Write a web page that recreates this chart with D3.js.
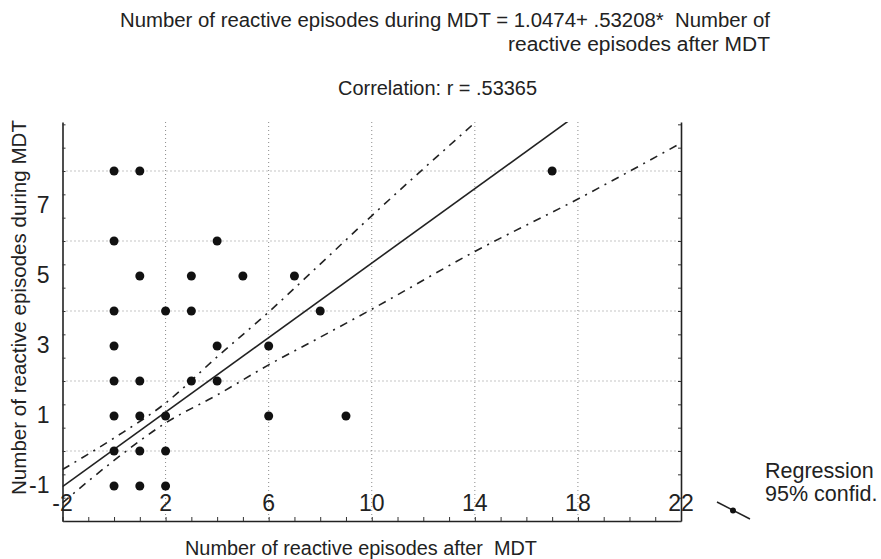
<!DOCTYPE html>
<html>
<head>
<meta charset="utf-8">
<script src="https://cdn.jsdelivr.net/npm/d3@7"></script>
<style>
  body { margin: 0; background: #fff; }
  text { font-family: "Liberation Sans", Arial, sans-serif; fill: #222; white-space: pre; }
</style>
</head>
<body>
<div id="chart"></div>
<script>
// Data
var afterMDT  = [0, 1, 17, 0, 4, 1, 3, 5, 7, 0, 2, 3, 8, 0, 4, 6, 0, 1, 3, 4, 0, 1, 2, 6, 9, 0, 1, 2, 0, 1, 2];
var duringMDT = [9, 9, 9, 7, 7, 6, 6, 6, 6, 5, 5, 5, 5, 4, 4, 4, 3, 3, 3, 3, 2, 2, 2, 2, 2, 1, 1, 1, 0, 0, 0];

// Regression from the title
var intercept = 1.0474;
var slope = 0.53208;

// 95% confidence band, read at a few x positions
var bandX     = [-2, 0, 2, 4, 6, 8, 10, 14, 18, 22];
var bandUpper = [0.47, 1.37, 2.37, 3.69, 4.97, 6.34, 7.72, 10.38, 13.0, 15.6];
var bandLower = [-0.48, 0.73, 1.8, 2.6, 3.46, 4.25, 5.05, 6.7, 8.2, 9.8];

// Ticks (labels on the y axis are offset in the original)
var xTickValues = [-2, 2, 6, 10, 14, 18, 22];
var yTickValues = [0, 2, 4, 6, 8];
var yTickLabels = ["-1", "1", "3", "5", "7"];
var xGridValues = [2, 6, 10, 14, 18];
var yGridValues = [1, 3, 5, 7, 9];

var svgWidth = 881;
var svgHeight = 559;

var margins = {
  top: 122,
  right: 200,
  bottom: 38,
  left: 62.5
};

var width = svgWidth - margins.left - margins.right;   // 618.5
var height = svgHeight - margins.top - margins.bottom; // 399

var svg = d3.select("#chart")
  .append("svg")
  .attr("width", svgWidth)
  .attr("height", svgHeight);

var chartGroup = svg.append("g")
  .attr("transform", `translate(${margins.left}, ${margins.top})`);

// Scales
var xScale = d3.scaleLinear().domain([-2, 22]).range([0, width]);
var yScale = d3.scaleLinear().domain([-1, 10.4]).range([height, 0]);

chartGroup.append("clipPath")
  .attr("id", "plotClip")
  .append("rect")
  .attr("width", width)
  .attr("height", height);

// Grid lines
chartGroup.selectAll(".xgrid").data(xGridValues).enter()
  .append("line")
  .attr("x1", d => xScale(d)).attr("x2", d => xScale(d))
  .attr("y1", 0).attr("y2", height)
  .attr("stroke", "#8a8a8a")
  .attr("stroke-width", 1)
  .attr("stroke-dasharray", "1,3");

chartGroup.selectAll(".ygrid").data(yGridValues).enter()
  .append("line")
  .attr("x1", 0).attr("x2", width)
  .attr("y1", d => yScale(d)).attr("y2", d => yScale(d))
  .attr("stroke", "#8a8a8a")
  .attr("stroke-width", 1)
  .attr("stroke-dasharray", "1,3");

// Axes: left, bottom, right with small inner ticks
var minorX = d3.range(-2, 22.01, 1);
var minorY = d3.range(-1, 10.4, 2 / 3);

var bottomAxis = d3.axisBottom(xScale).tickValues(minorX).tickSizeInner(-4).tickSizeOuter(0).tickFormat("");
var leftAxis = d3.axisLeft(yScale).tickValues(minorY).tickSizeInner(-3).tickSizeOuter(0).tickFormat("");
var rightAxis = d3.axisRight(yScale).tickValues(minorY).tickSizeInner(-3).tickSizeOuter(0).tickFormat("");

[chartGroup.append("g").attr("transform", `translate(0, ${height})`).call(bottomAxis),
 chartGroup.append("g").call(leftAxis),
 chartGroup.append("g").attr("transform", `translate(${width}, 0)`).call(rightAxis)]
  .forEach(function(g) {
    g.select(".domain").attr("stroke", "#222").attr("stroke-width", 1.6);
    g.selectAll(".tick line").attr("stroke", "#333").attr("stroke-width", 1);
  });

// Tick labels
chartGroup.selectAll(".xlabel").data(xTickValues).enter()
  .append("text")
  .attr("x", d => xScale(d))
  .attr("y", height - 10)
  .attr("text-anchor", "middle")
  .attr("font-size", 23)
  .text(d => d);

chartGroup.selectAll(".ylabel").data(yTickValues).enter()
  .append("text")
  .attr("x", -13)
  .attr("y", d => yScale(d) + 7)
  .attr("text-anchor", "end")
  .attr("font-size", 23)
  .text((d, i) => yTickLabels[i]);

// Confidence band and regression line
var plotArea = chartGroup.append("g").attr("clip-path", "url(#plotClip)");

var bandLine = d3.line()
  .x(d => xScale(d[0]))
  .y(d => yScale(d[1]))
  .curve(d3.curveMonotoneX);

[bandUpper, bandLower].forEach(function(band) {
  plotArea.append("path")
    .datum(bandX.map((x, i) => [x, band[i]]))
    .attr("d", bandLine)
    .attr("fill", "none")
    .attr("stroke", "#222")
    .attr("stroke-width", 1.6)
    .attr("stroke-dasharray", "8,6,2,6");
});

plotArea.append("line")
  .attr("x1", xScale(-2)).attr("y1", yScale(intercept + slope * -2))
  .attr("x2", xScale(22)).attr("y2", yScale(intercept + slope * 22))
  .attr("stroke", "#222")
  .attr("stroke-width", 1.6);

// Points
chartGroup.selectAll("circle").data(afterMDT).enter()
  .append("circle")
  .attr("cx", d => xScale(d))
  .attr("cy", (d, i) => yScale(duringMDT[i]))
  .attr("r", 4.5)
  .attr("fill", "#111");

// Titles
svg.append("text")
  .attr("x", 120).attr("y", 27)
  .attr("font-size", 20)
  .attr("textLength", 650).attr("lengthAdjust", "spacingAndGlyphs")
  .text("Number of reactive episodes during MDT = 1.0474+ .53208*  Number of");

svg.append("text")
  .attr("x", 508).attr("y", 51)
  .attr("font-size", 20)
  .attr("textLength", 262).attr("lengthAdjust", "spacingAndGlyphs")
  .text("reactive episodes after MDT");

svg.append("text")
  .attr("x", 338).attr("y", 95)
  .attr("font-size", 20)
  .attr("textLength", 199).attr("lengthAdjust", "spacingAndGlyphs")
  .text("Correlation: r = .53365");

// Axes names
svg.append("text")
  .attr("transform", "rotate(-90)")
  .attr("x", -495).attr("y", 26)
  .attr("font-size", 21)
  .attr("textLength", 375).attr("lengthAdjust", "spacingAndGlyphs")
  .text("Number of reactive episodes during MDT");

svg.append("text")
  .attr("x", 185).attr("y", 555)
  .attr("font-size", 20)
  .attr("textLength", 352).attr("lengthAdjust", "spacingAndGlyphs")
  .text("Number of reactive episodes after  MDT");

// Legend
var legend = svg.append("g");
legend.append("line")
  .attr("x1", 717).attr("y1", 502)
  .attr("x2", 750).attr("y2", 519)
  .attr("stroke", "#222").attr("stroke-width", 1.5);
legend.append("circle")
  .attr("cx", 733).attr("cy", 510.5).attr("r", 3).attr("fill", "#111");
legend.append("text")
  .attr("x", 765).attr("y", 478)
  .attr("font-size", 21.5)
  .text("Regression");
legend.append("text")
  .attr("x", 765).attr("y", 501)
  .attr("font-size", 21.5)
  .text("95% confid.");
</script>
</body>
</html>
